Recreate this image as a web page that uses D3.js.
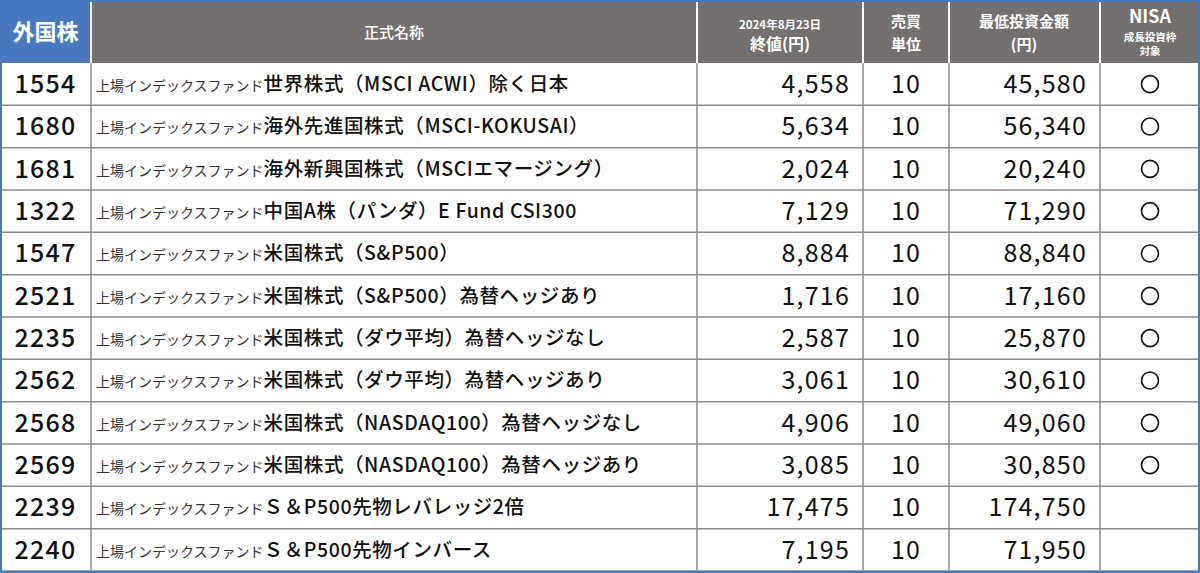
<!DOCTYPE html>
<html><head><meta charset="utf-8">
<script src="https://cdn.jsdelivr.net/npm/d3@7"></script>
<style>body{margin:0;background:#fff}svg{display:block}</style></head>
<body><svg id="c" width="1200" height="573"></svg>
<script>
const codes=["1554","1680","1681","1322","1547","2521","2235","2562","2568","2569","2239","2240"];
const prefix="上場インデックスファンド";
const names=["世界株式（MSCI ACWI）除く日本","海外先進国株式（MSCI-KOKUSAI）","海外新興国株式（MSCIエマージング）","中国A株（パンダ）E Fund CSI300","米国株式（S&P500）","米国株式（S&P500）為替ヘッジあり","米国株式（ダウ平均）為替ヘッジなし","米国株式（ダウ平均）為替ヘッジあり","米国株式（NASDAQ100）為替ヘッジなし","米国株式（NASDAQ100）為替ヘッジあり","Ｓ＆P500先物レバレッジ2倍","Ｓ＆P500先物インバース"];
const prices=[4558,5634,2024,7129,8884,1716,2587,3061,4906,3085,17475,7195];
const units=[10,10,10,10,10,10,10,10,10,10,10,10];
const nisa=[1,1,1,1,1,1,1,1,1,1,0,0];

const svg=d3.select("#c");
const F="'Noto Sans CJK JP','Noto Sans',sans-serif";
const colX=[0,91,697,863,949,1100,1200];
const headH=63;
const y=d3.scaleBand().domain(d3.range(codes.length)).range([headH,571]);
const fmt=d3.format(",");
svg.append("rect").attr("x",0).attr("y",0).attr("width",1200).attr("height",headH).attr("fill","#757070");
svg.append("rect").attr("x",0).attr("y",0).attr("width",91).attr("height",headH).attr("fill","#4a78be");
const ht=(x,yy,t,s,w)=>svg.append("text").attr("x",x).attr("y",yy).attr("text-anchor","middle").attr("fill","#fff").attr("font-family",F).attr("font-size",s).attr("font-weight",w||"bold").text(t);
ht(45.5,40,"外国株",22);
ht(394,38,"正式名称",15,"500");
ht(780,29,"2024年8月23日",11.5);
ht(780,50,"終値(円)",16);
ht(906,27,"売買",15);ht(906,50,"単位",15);
ht(1024,27,"最低投資金額",15);ht(1024,50,"(円)",15);
ht(1150,23,"NISA",18);ht(1150,41,"成長投資枠",10.5);ht(1150,55,"対象",10.5);
colX.slice(1,-1).forEach(x=>svg.append("line").attr("x1",x).attr("x2",x).attr("y1",0).attr("y2",headH).attr("stroke","#fff").attr("stroke-width",2));
const g=svg.selectAll("g.r").data(codes).join("g").attr("transform",(d,i)=>`translate(0,${y(i)})`);
const h=y.bandwidth();
g.append("line").attr("x1",0).attr("x2",1200).attr("y1",h).attr("y2",h).attr("stroke","#8a8a8a").attr("stroke-width",1.5);
const num=(sel)=>sel.attr("font-family",F).attr("font-size",25).attr("letter-spacing",1.2).attr("fill","#111");
num(g.append("text").attr("x",45.5).attr("y",h/2+9).attr("text-anchor","middle").attr("font-weight","500")).text(d=>d);
const nt=g.append("text").attr("x",96).attr("y",h/2+7).attr("font-family",F).attr("fill","#111");
nt.append("tspan").attr("font-size",14).attr("fill","#333").text(prefix);
nt.append("tspan").attr("font-size",19.5).attr("font-weight","500").attr("letter-spacing",0.6).text((d,i)=>names[i]);
num(g.append("text").attr("x",850).attr("y",h/2+9).attr("text-anchor","end")).text((d,i)=>fmt(prices[i]));
num(g.append("text").attr("x",906).attr("y",h/2+9).attr("text-anchor","middle")).text((d,i)=>units[i]);
num(g.append("text").attr("x",1087).attr("y",h/2+9).attr("text-anchor","end")).text((d,i)=>fmt(prices[i]*units[i]));
g.filter((d,i)=>nisa[i]).append("circle").attr("cx",1150).attr("cy",h/2).attr("r",8.5).attr("fill","none").attr("stroke","#111").attr("stroke-width",1.6);
colX.slice(1,-1).forEach(x=>svg.append("line").attr("x1",x).attr("x2",x).attr("y1",headH).attr("y2",573).attr("stroke","#8a8a8a").attr("stroke-width",1.5));
svg.append("rect").attr("x",1).attr("y",1).attr("width",1198).attr("height",571).attr("fill","none").attr("stroke","#4a78be").attr("stroke-width",2);
</script></body></html>
